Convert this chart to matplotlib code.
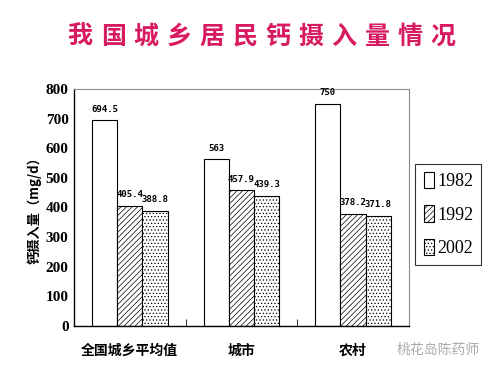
import matplotlib.pyplot as plt
import numpy as np

categories = ['全国城乡平均值', '城市', '农村']
years = ['1982', '1992', '2002']
intake_1982 = [694.5, 563, 750]
intake_1992 = [405.4, 457.9, 378.2]
intake_2002 = [388.8, 439.3, 371.8]
title = '我国城乡居民钙摄入量情况'

plt.rcParams['font.family'] = ['Noto Sans CJK SC', 'DejaVu Sans']
plt.rcParams['hatch.linewidth'] = 0.5

fig = plt.figure(figsize=(5.04, 3.80), dpi=100)
fig.patch.set_facecolor('white')
ax = fig.add_axes([0.147, 0.142, 0.664, 0.624])

x = np.arange(len(categories)) + 0.5
w = 0.225
series = [intake_1982, intake_1992, intake_2002]
hatches = ['', '//////', '.....']
for i, (vals, h) in enumerate(zip(series, hatches)):
    ax.bar(x + (i - 1) * w, vals, w, facecolor='white', edgecolor='black',
           hatch=h, linewidth=0.8, label=years[i])
    for xi, v in zip(x + (i - 1) * w, vals):
        txt = f'{v:g}'
        ax.text(xi, v + 22, txt, ha='center', va='bottom', fontsize=6.5,
                family=['DejaVu Sans Mono'], fontweight='bold')

ax.set_xlim(0, 3)
ax.set_ylim(0, 800)
ax.set_yticks(range(0, 801, 100))
ax.set_yticklabels([str(t) for t in range(0, 801, 100)], fontsize=11,
                   fontweight='bold', family=['Liberation Serif'])
ax.set_xticks(x)
ax.set_xticklabels(categories, fontsize=10, fontweight='bold')
ax.tick_params(axis='x', length=0, pad=13)
ax.set_xticks([1, 2], minor=True)
ax.tick_params(axis='x', which='minor', direction='in', length=5)
ax.tick_params(axis='y', length=0, pad=4)

for s in ['top', 'right']:
    ax.spines[s].set_color('#888888')
    ax.spines[s].set_linewidth(0.8)
for s in ['left', 'bottom']:
    ax.spines[s].set_color('black')
    ax.spines[s].set_linewidth(1.0)

ax.set_ylabel('钙摄入量（mg/d）', fontsize=9.5, fontweight='bold', labelpad=3)

leg = ax.legend(loc='center left', bbox_to_anchor=(1.02, 0.47), frameon=True,
                fancybox=False, edgecolor='black', handlelength=0.6,
                handleheight=1.0, handletextpad=0.15, labelspacing=0.85,
                borderpad=0.45, borderaxespad=0,
                prop={'family': 'Liberation Serif', 'size': 13})
leg.get_frame().set_linewidth(0.8)

# title characters spread out like the reference's letter-spaced heading
xs = np.linspace(0.159, 0.879, len(title))
for xc, ch in zip(xs, title):
    fig.text(xc, 0.903, ch, ha='center', va='center', fontsize=18,
             color='#d81b60', fontweight='bold')

fig.text(0.87, 0.078, '桃花岛陈药师', ha='center', va='center', fontsize=10,
         color='#aaaaaa')

plt.savefig('out.png', dpi=100, facecolor='white')
